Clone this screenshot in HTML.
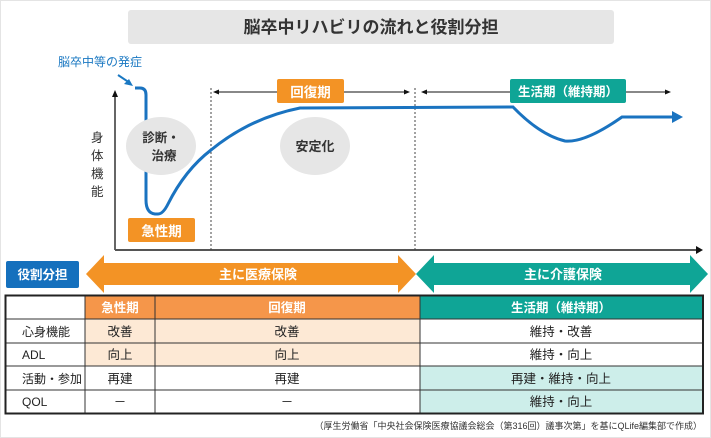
<!DOCTYPE html>
<html><head><meta charset="utf-8"><style>
html,body{margin:0;padding:0;background:#fff}
svg{display:block}
text{font-family:"Liberation Sans","Noto Sans CJK JP",sans-serif}
</style></head><body>
<svg width="711" height="438" viewBox="0 0 711 438" xmlns="http://www.w3.org/2000/svg">
<rect x="0.5" y="0.5" width="710" height="437" fill="#fff" stroke="#e4e4e4"/>
<rect x="128" y="10" width="486" height="34" rx="3" fill="#e6e6e6"/>
<text x="371" y="33" font-size="17" font-weight="bold" fill="#333" text-anchor="middle">脳卒中リハビリの流れと役割分担</text>
<text x="58" y="66" font-size="12" fill="#1a78c2">脳卒中等の発症</text>
<line x1="118" y1="75" x2="130" y2="83" stroke="#1a78c2" stroke-width="2"/>
<polygon points="133,86 124,84 129,79" fill="#1a78c2"/>
<line x1="115" y1="250" x2="115" y2="96" stroke="#333" stroke-width="1.5"/>
<polygon points="115,90 112,97 118,97" fill="#111"/>
<line x1="115" y1="250" x2="697" y2="250" stroke="#555" stroke-width="2"/>
<polygon points="703,250 696,246 696,254" fill="#111"/>
<text font-size="12.5" fill="#333" x="91" y="142">身</text>
<text font-size="12.5" fill="#333" x="91" y="160">体</text>
<text font-size="12.5" fill="#333" x="91" y="178">機</text>
<text font-size="12.5" fill="#333" x="91" y="196">能</text>
<line x1="211" y1="88" x2="211" y2="250" stroke="#444" stroke-dasharray="2,2"/>
<line x1="415" y1="88" x2="415" y2="250" stroke="#444" stroke-dasharray="2,2"/>
<line x1="216" y1="92" x2="407" y2="92" stroke="#111"/>
<polygon points="213,92 219,89.5 219,94.5" fill="#111"/>
<polygon points="410,92 404,89.5 404,94.5" fill="#111"/>
<line x1="424" y1="92" x2="668" y2="92" stroke="#111"/>
<polygon points="421,92 427,89.5 427,94.5" fill="#111"/>
<polygon points="671,92 665,89.5 665,94.5" fill="#111"/>
<rect x="277" y="79" width="67" height="24" rx="2" fill="#f39325"/>
<text x="310.5" y="97" font-size="13.5" font-weight="bold" fill="#fff" text-anchor="middle">回復期</text>
<rect x="510" y="79" width="116" height="24" rx="2" fill="#0fa596"/>
<text x="568" y="96" font-size="12.5" font-weight="bold" fill="#fff" text-anchor="middle">生活期（維持期）</text>
<path d="M135,88 L140,88 Q146,88 146,95 L146,200 Q146,213 155,214 L158,214 Q163,214 168,204 Q185,170 211,150 Q250,118 300,108 L513,107 Q540,135 565,141 Q585,143 622,117 L675,117" fill="none" stroke="#1a73c0" stroke-width="3"/>
<polygon points="683,117 672,111 672,123" fill="#1a73c0"/>
<ellipse cx="161" cy="146" rx="35" ry="29" fill="#e6e6e6"/>
<text x="161" y="142" font-size="12.5" font-weight="bold" fill="#333" text-anchor="middle">診断・</text>
<text x="164" y="160" font-size="12.5" font-weight="bold" fill="#333" text-anchor="middle">治療</text>
<ellipse cx="315" cy="146" rx="35" ry="29" fill="#e6e6e6"/>
<text x="315" y="151" font-size="13" font-weight="bold" fill="#333" text-anchor="middle">安定化</text>
<rect x="128" y="218" width="67" height="24" rx="2" fill="#f39325"/>
<text x="161.5" y="236" font-size="13.5" font-weight="bold" fill="#fff" text-anchor="middle">急性期</text>
<rect x="6" y="261" width="73" height="27" rx="2" fill="#1570bd"/>
<text x="42.5" y="279" font-size="12.5" font-weight="bold" fill="#fff" text-anchor="middle">役割分担</text>
<polygon points="86,274 104,255 104,263 398,263 398,255 416,274 398,293 398,285 104,285 104,293" fill="#f39325"/>
<text x="258" y="279" font-size="13" font-weight="bold" fill="#fff" text-anchor="middle">主に医療保険</text>
<polygon points="416,274 434,255 434,263 690,263 690,255 708,274 690,293 690,285 434,285 434,293" fill="#0fa596"/>
<text x="563" y="279" font-size="13" font-weight="bold" fill="#fff" text-anchor="middle">主に介護保険</text>
<rect x="85" y="296" width="70" height="23" fill="#f5964a"/>
<rect x="155" y="296" width="265" height="23" fill="#f5964a"/>
<rect x="420" y="296" width="283" height="23" fill="#0fa596"/>
<rect x="85" y="319" width="335" height="47" fill="#fde9d5"/>
<rect x="420" y="366" width="283" height="47" fill="#cdeeea"/>
<g stroke="#333" stroke-width="1">
<line x1="5" y1="319" x2="703" y2="319"/>
<line x1="5" y1="343" x2="703" y2="343"/>
<line x1="5" y1="366" x2="703" y2="366"/>
<line x1="5" y1="390" x2="703" y2="390"/>
<line x1="85" y1="295" x2="85" y2="413"/>
<line x1="155" y1="295" x2="155" y2="413"/>
<line x1="420" y1="295" x2="420" y2="413"/>
</g>
<rect x="5.5" y="295.5" width="697.5" height="118" fill="none" stroke="#222" stroke-width="2"/>
<g font-size="12.5" fill="#222" text-anchor="middle">
<text x="120" y="312" fill="#fff" font-weight="bold">急性期</text>
<text x="287" y="312" fill="#fff" font-weight="bold">回復期</text>
<text x="561" y="312" fill="#fff" font-weight="bold">生活期（維持期）</text>
<text x="120" y="336">改善</text><text x="287" y="336">改善</text><text x="561" y="336">維持・改善</text>
<text x="120" y="359">向上</text><text x="287" y="359">向上</text><text x="561" y="359">維持・向上</text>
<text x="120" y="383">再建</text><text x="287" y="383">再建</text><text x="561" y="383">再建・維持・向上</text>
<text x="120" y="406">－</text><text x="287" y="406">－</text><text x="561" y="406">維持・向上</text>
</g>
<g font-size="12" fill="#222">
<text x="22" y="336">心身機能</text>
<text x="22" y="359">ADL</text>
<text x="22" y="383" textLength="60" lengthAdjust="spacingAndGlyphs">活動・参加</text>
<text x="22" y="406">QOL</text>
</g>
<text x="702" y="429" font-size="9" fill="#333" text-anchor="end">（厚生労働省「中央社会保険医療協議会総会（第316回）議事次第」を基にQLife編集部で作成）</text>
</svg>
</body></html>
